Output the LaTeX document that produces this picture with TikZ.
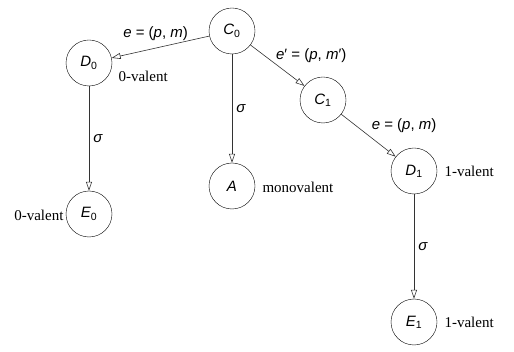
\documentclass[tikz,border=0pt]{standalone}
\usepackage{fontspec}
\setmainfont{Liberation Serif}
\newfontfamily\hv{Liberation Sans}
\usetikzlibrary{arrows.meta}
\tikzset {>={Triangle[open,length=9pt,width=6pt]}}
\newcommand{\hvf}{\hv\fontsize{15}{18}\selectfont}
\newcommand{\lab}[2]{#1\textsubscript{\upshape #2}}
\tikzset{state/.style={draw,circle,minimum size=46pt,inner sep=0pt,font=\hvf\itshape},
  edge/.style={->,draw=black!80,semithick},
  elabel/.style={font=\hvf,inner sep=1pt},
  valence/.style={font=\fontsize{15}{18}\selectfont}}

\begin{document}
\begin{tikzpicture}[x=1pt,y=-1pt]
\useasboundingbox (0,0) rectangle (514,352);
\foreach \name/\x/\y/\txt in {C0/232/31/{\lab{C}{0}},D0/89/63/{\lab{D}{0}},
  C1/323/100/{\lab{C}{1}},A/232/186/{A},D1/414/171/{\lab{D}{1}},
  E0/89/214/{\lab{E}{0}},E1/414/322/{\lab{E}{1}}}
  \node[state] (\name) at (\x,\y) {\txt};

% edges of the execution tree
\draw[edge] (C0) -- node[elabel,above,pos=.55,yshift=6pt] {\textit{e} = (\textit{p}, \textit{m})} (D0);
\draw[edge] (C0) -- node[elabel,above right,pos=.45] {\textit{e}′ = (\textit{p}, \textit{m}′)} (C1);
\draw[edge] (C1) -- node[elabel,above right,pos=.5,inner sep=3pt] {\textit{e} = (\textit{p}, \textit{m})} (D1);
\draw[edge] (C0) -- node[elabel,right,inner sep=4pt,font=\hvf\itshape] {σ} (A);
\draw[edge] (D0) -- node[elabel,right,inner sep=4pt,font=\hvf\itshape] {σ} (E0);
\draw[edge] (D1) -- node[elabel,right,inner sep=4pt,font=\hvf\itshape] {σ} (E1);

\node[valence,anchor=west] (vD0) at (115,76) {0-valent};
\node[valence,anchor=east] (vE0) at (67,215) {0-valent};
\node[valence,anchor=west] (vA) at (259,187) {monovalent};
\node[valence,anchor=west] (vD1) at (441,171) {1-valent};
\node[valence,anchor=west] (vE1) at (441,322) {1-valent};
\end{tikzpicture}
\end{document}
